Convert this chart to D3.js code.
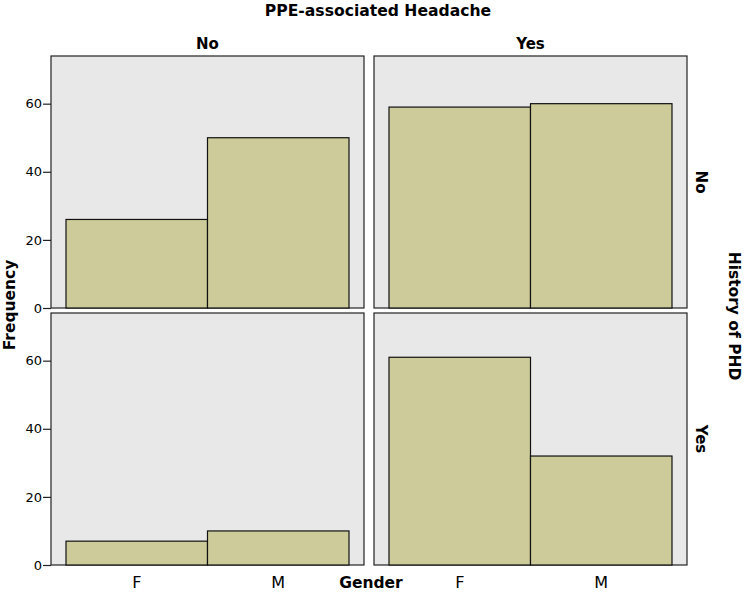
<!DOCTYPE html>
<html><head><meta charset="utf-8">
<script src="https://cdn.jsdelivr.net/npm/d3@7"></script>
<style>body{margin:0;background:#fff}svg{display:block}text{font-family:"DejaVu Sans",sans-serif;fill:#000}</style>
</head><body>
<script>
const genders = ["F", "M"];
const colLevels = ["No", "Yes"];   // PPE-associated Headache
const rowLevels = ["No", "Yes"];   // History of PHD
const countsNoNo = [26, 50];
const countsYesNo = [59, 60];
const countsNoYes = [7, 10];
const countsYesYes = [61, 32];
const yTicks = [0, 20, 40, 60];

const cells = [
  {col: "No", row: "No", values: countsNoNo},
  {col: "Yes", row: "No", values: countsYesNo},
  {col: "No", row: "Yes", values: countsNoYes},
  {col: "Yes", row: "Yes", values: countsYesYes}
];

const W = 745, H = 593;
const svg = d3.select("body").append("svg").attr("width", W).attr("height", H);

const colX = d3.scaleOrdinal().domain(colLevels).range([[51, 364], [374, 687]]);
const rowY = d3.scaleOrdinal().domain(rowLevels).range([[308, 56], [565, 313]]);

cells.forEach(c => {
  const [x0, x1] = colX(c.col);
  const [yb, yt] = rowY(c.row);
  const x = d3.scaleBand().domain(genders).range([x0, x1]).paddingInner(0).paddingOuter(0.106);
  const y = d3.scaleLinear().domain([0, 74]).range([yb, yt]);
  const g = svg.append("g");
  g.append("rect").attr("x", x0).attr("y", yt).attr("width", x1 - x0).attr("height", yb - yt)
    .attr("fill", "#e8e8e8").attr("stroke", "#222").attr("stroke-width", 1.2);
  g.selectAll(".bar").data(genders.map((gd, i) => ({g: gd, v: c.values[i]}))).enter()
    .append("rect").attr("class", "bar")
    .attr("x", d => x(d.g)).attr("width", x.bandwidth())
    .attr("y", d => y(d.v)).attr("height", d => y(0) - y(d.v))
    .attr("fill", "#cccb99").attr("stroke", "#111").attr("stroke-width", 1.2);
  if (c.col === "No") {
    const ax = g.append("g").attr("transform", `translate(${x0},0)`)
      .call(d3.axisLeft(y).tickValues(yTicks).tickSize(8).tickPadding(1).tickFormat(d3.format("d")));
    ax.select(".domain").remove();
    ax.selectAll("line").attr("stroke", "#222").attr("stroke-width", 1.2);
    ax.selectAll("text").attr("font-size", "13px").attr("font-family", "DejaVu Sans").attr("fill", "#222");
  }
  if (c.row === "Yes") {
    const ax = g.append("g").attr("transform", `translate(0,${yb})`)
      .call(d3.axisBottom(x).tickSize(0).tickPadding(12));
    ax.select(".domain").remove();
    ax.selectAll("text").attr("font-size", "16px").attr("font-family", "DejaVu Sans").attr("fill", "#222");
  }
  if (c.row === "No") {
    svg.append("text").attr("x", (x0 + x1) / 2).attr("y", 49).attr("text-anchor", "middle")
      .attr("font-size", "15px").attr("font-weight", "bold").text(c.col);
  }
  if (c.col === "Yes") {
    svg.append("text").attr("transform", `translate(696,${(yb + yt) / 2}) rotate(90)`)
      .attr("text-anchor", "middle").attr("font-size", "15px").attr("font-weight", "bold").text(c.row);
  }
});

svg.append("text").attr("x", 378).attr("y", 16).attr("text-anchor", "middle")
  .attr("font-size", "15.6px").attr("font-weight", "bold").text("PPE-associated Headache");
svg.append("text").attr("transform", "translate(3,305) rotate(-90)").attr("text-anchor", "middle")
  .attr("dy", "0.8em").attr("font-size", "15.5px").attr("font-weight", "bold").text("Frequency");
svg.append("text").attr("x", 371).attr("y", 588).attr("text-anchor", "middle")
  .attr("font-size", "15.5px").attr("font-weight", "bold").text("Gender");
svg.append("text").attr("transform", "translate(729,316) rotate(90)").attr("text-anchor", "middle")
  .attr("font-size", "15.5px").attr("font-weight", "bold").text("History of PHD");
</script>
</body></html>
